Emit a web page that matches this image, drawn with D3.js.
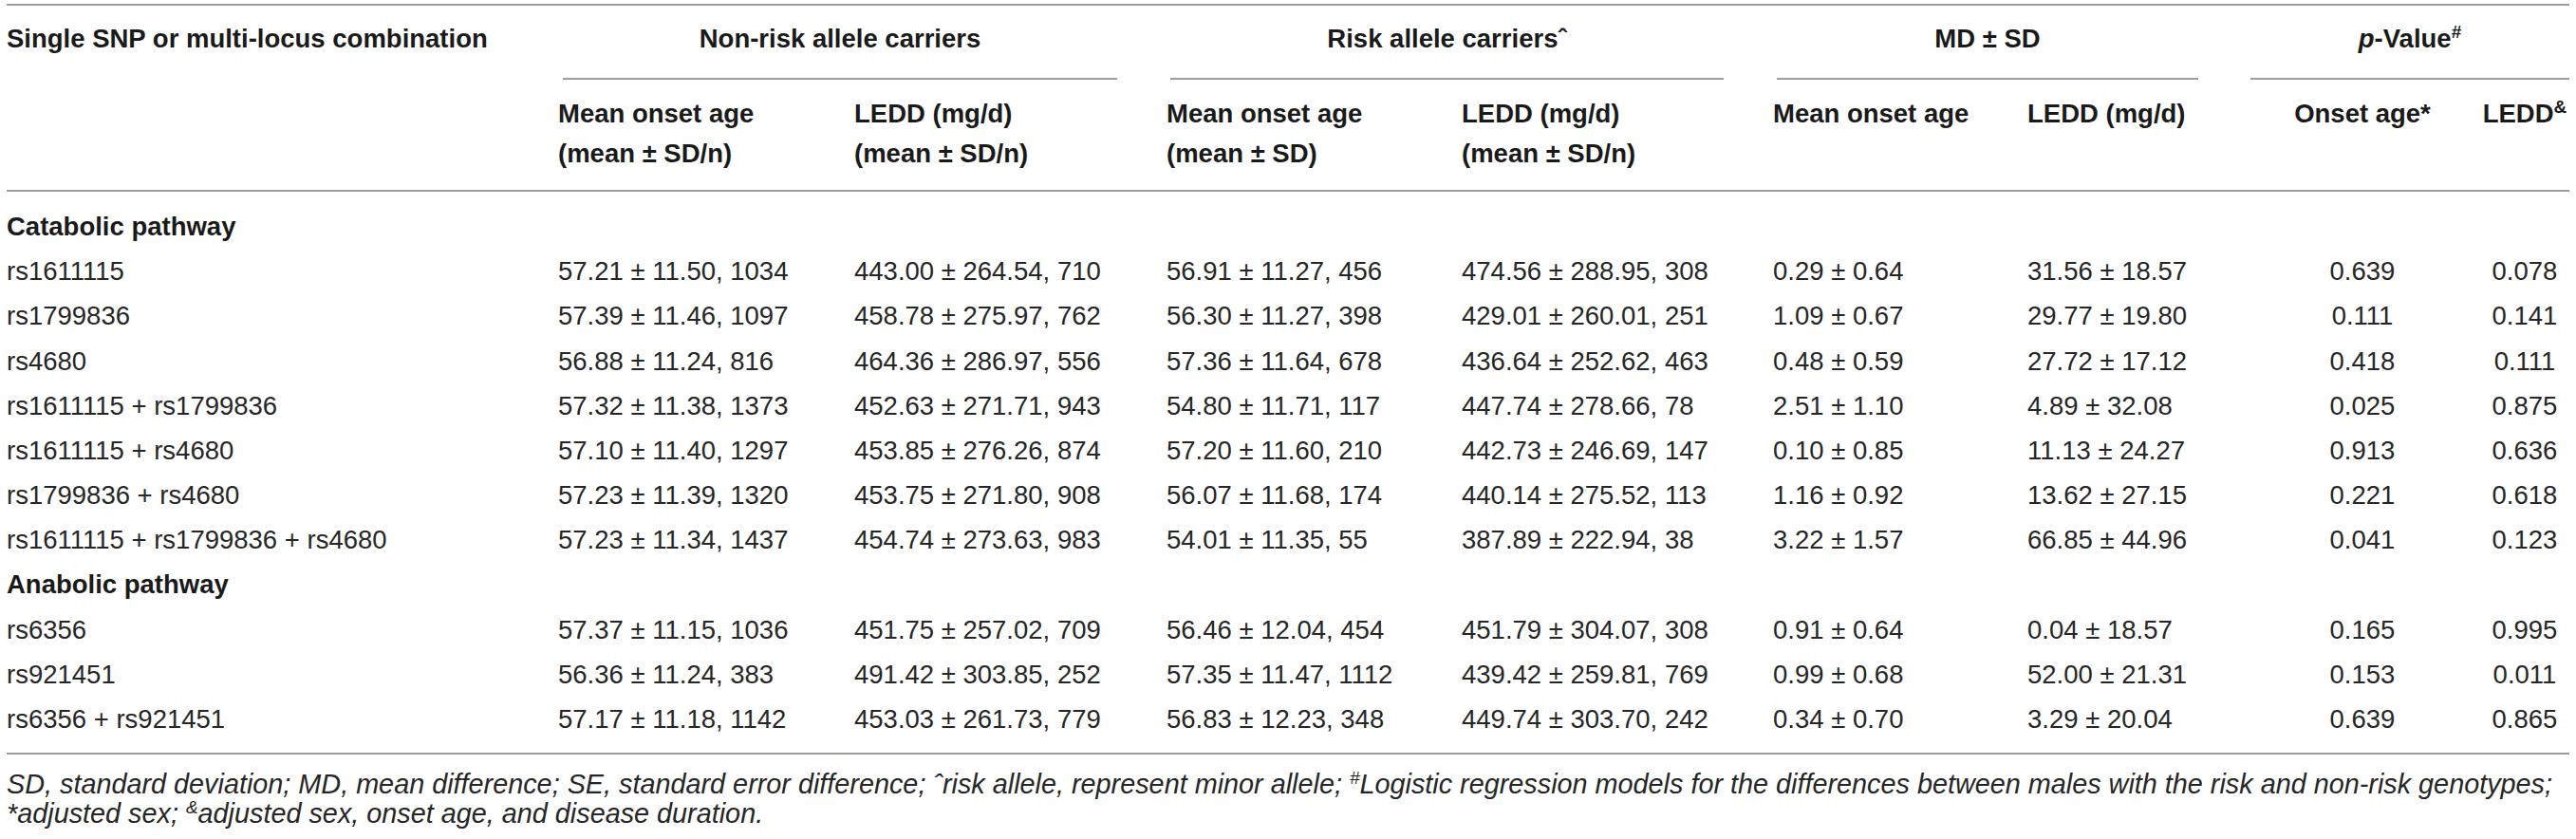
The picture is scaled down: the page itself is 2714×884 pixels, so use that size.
<!DOCTYPE html>
<html>
<head>
<meta charset="utf-8">
<script src="https://cdn.jsdelivr.net/npm/d3@7"></script>
<style>
  body { margin: 0; background: #fff; }
  svg text {
    font-family: "Liberation Sans", Arial, Helvetica, sans-serif;
    font-size: 27.5px;
    fill: #262626;
  }
  svg text.head { font-weight: bold; fill: #1a1a1a; }
  svg text.note { font-style: italic; font-size: 28.8px; }
  .rule { stroke: #9c9c9c; stroke-width: 2; }
</style>
</head>
<body>
<svg id="chart" width="2714" height="884"></svg>
<script>
// ---- table contents ----
var pathways = ["Catabolic pathway", "Anabolic pathway"];

var snps = [
  "rs1611115",
  "rs1799836",
  "rs4680",
  "rs1611115 + rs1799836",
  "rs1611115 + rs4680",
  "rs1799836 + rs4680",
  "rs1611115 + rs1799836 + rs4680",
  "rs6356",
  "rs921451",
  "rs6356 + rs921451"
];
// which pathway each row belongs to (index into pathways)
var snpPathway = [0, 0, 0, 0, 0, 0, 0, 1, 1, 1];

// mean, SD, n
var nonRiskOnset = [
  [57.21, 11.50, 1034], [57.39, 11.46, 1097], [56.88, 11.24, 816],
  [57.32, 11.38, 1373], [57.10, 11.40, 1297], [57.23, 11.39, 1320],
  [57.23, 11.34, 1437], [57.37, 11.15, 1036], [56.36, 11.24, 383],
  [57.17, 11.18, 1142]
];
var nonRiskLedd = [
  [443.00, 264.54, 710], [458.78, 275.97, 762], [464.36, 286.97, 556],
  [452.63, 271.71, 943], [453.85, 276.26, 874], [453.75, 271.80, 908],
  [454.74, 273.63, 983], [451.75, 257.02, 709], [491.42, 303.85, 252],
  [453.03, 261.73, 779]
];
var riskOnset = [
  [56.91, 11.27, 456], [56.30, 11.27, 398], [57.36, 11.64, 678],
  [54.80, 11.71, 117], [57.20, 11.60, 210], [56.07, 11.68, 174],
  [54.01, 11.35, 55], [56.46, 12.04, 454], [57.35, 11.47, 1112],
  [56.83, 12.23, 348]
];
var riskLedd = [
  [474.56, 288.95, 308], [429.01, 260.01, 251], [436.64, 252.62, 463],
  [447.74, 278.66, 78], [442.73, 246.69, 147], [440.14, 275.52, 113],
  [387.89, 222.94, 38], [451.79, 304.07, 308], [439.42, 259.81, 769],
  [449.74, 303.70, 242]
];
// mean difference, SD
var mdOnset = [
  [0.29, 0.64], [1.09, 0.67], [0.48, 0.59], [2.51, 1.10], [0.10, 0.85],
  [1.16, 0.92], [3.22, 1.57], [0.91, 0.64], [0.99, 0.68], [0.34, 0.70]
];
var mdLedd = [
  [31.56, 18.57], [29.77, 19.80], [27.72, 17.12], [4.89, 32.08], [11.13, 24.27],
  [13.62, 27.15], [66.85, 44.96], [0.04, 18.57], [52.00, 21.31], [3.29, 20.04]
];
var pOnset = [0.639, 0.111, 0.418, 0.025, 0.913, 0.221, 0.041, 0.165, 0.153, 0.639];
var pLedd = [0.078, 0.141, 0.111, 0.875, 0.636, 0.618, 0.123, 0.995, 0.011, 0.865];

// header labels: segments {t, sup, it}
var groupHeads = [
  [{ t: "Single SNP or multi-locus combination" }],
  [{ t: "Non-risk allele carriers" }],
  [{ t: "Risk allele carriers\u02c6" }],
  [{ t: "MD \u00b1 SD" }],
  [{ t: "p", it: true }, { t: "-Value" }, { t: "#", sup: true }]
];
var subHeads = [
  ["Mean onset age", "(mean \u00b1 SD/n)"],
  ["LEDD (mg/d)", "(mean \u00b1 SD/n)"],
  ["Mean onset age", "(mean \u00b1 SD)"],
  ["LEDD (mg/d)", "(mean \u00b1 SD/n)"],
  ["Mean onset age"],
  ["LEDD (mg/d)"]
];
var pHeads = [
  [{ t: "Onset age*" }],
  [{ t: "LEDD" }, { t: "&", sup: true }]
];
var footnotes = [
  [{ t: "SD, standard deviation; MD, mean difference; SE, standard error difference; \u02c6risk allele, represent minor allele; " },
   { t: "#", sup: true },
   { t: "Logistic regression models for the differences between males with the risk and non-risk genotypes;" }],
  [{ t: "*adjusted sex; " }, { t: "&", sup: true }, { t: "adjusted sex, onset age, and disease duration." }]
];

// ---- layout ----
var svg = d3.select("#chart");
var left = 7, right = 2707;

var cols = ["snp", "c1", "c2", "c3", "c4", "c5", "c6", "p1", "p2"];
var colX = d3.scaleOrdinal().domain(cols)
  .range([7, 588, 900, 1229, 1540, 1868, 2136, 2489, 2660]);

// spans of the group headings (start, end)
var spanX = d3.scaleOrdinal().domain([1, 2, 3, 4])
  .range([[593, 1177], [1233, 1816], [1872, 2316], [2371, 2707]]);

var fmt2 = d3.format(".2f"), fmt3 = d3.format(".3f");
var pm = " \u00b1 ";
function triple(v) { return fmt2(v[0]) + pm + fmt2(v[1]) + ", " + v[2]; }
function pair(v) { return fmt2(v[0]) + pm + fmt2(v[1]); }

function rich(sel, segs) {
  var raised = false;
  segs.forEach(function (s) {
    var ts = sel.append("tspan").text(s.t);
    if (s.it) ts.style("font-style", "italic");
    if (s.sup) {
      ts.attr("dy", -10).style("font-size", "19px");
      raised = true;
    } else if (raised) {
      ts.attr("dy", 10);
      raised = false;
    }
  });
}

// horizontal rules
[5, 201, 794].forEach(function (y) {
  svg.append("line").attr("class", "rule")
    .attr("x1", left).attr("x2", right).attr("y1", y).attr("y2", y);
});
[1, 2, 3, 4].forEach(function (k) {
  var s = spanX(k);
  svg.append("line").attr("class", "rule")
    .attr("x1", s[0]).attr("x2", s[1]).attr("y1", 83).attr("y2", 83);
});

// top header row
var headY = 50;
groupHeads.forEach(function (segs, i) {
  var t = svg.append("text").attr("class", "head").attr("y", headY);
  if (i === 0) {
    t.attr("x", colX("snp"));
  } else {
    var s = spanX(i);
    t.attr("x", (s[0] + s[1]) / 2).attr("text-anchor", "middle");
  }
  rich(t, segs);
});

// second header row
var subY = d3.scaleLinear().domain([0, 1]).range([129, 171]);
subHeads.forEach(function (lines, i) {
  lines.forEach(function (line, j) {
    svg.append("text").attr("class", "head")
      .attr("x", colX(cols[i + 1])).attr("y", subY(j))
      .text(line);
  });
});
pHeads.forEach(function (segs, i) {
  var t = svg.append("text").attr("class", "head")
    .attr("x", colX(cols[7 + i])).attr("y", subY(0))
    .attr("text-anchor", "middle");
  rich(t, segs);
});

// body rows
var rows = [];
pathways.forEach(function (p, gi) {
  rows.push({ group: p });
  snps.forEach(function (s, i) {
    if (snpPathway[i] === gi) rows.push({ i: i });
  });
});
var rowY = d3.scaleLinear().domain([0, rows.length - 1]).range([248, 767]);

var body = svg.append("g");
var rowG = body.selectAll("g.row").data(rows).enter().append("g")
  .attr("class", "row")
  .attr("transform", function (d, k) { return "translate(0," + rowY(k) + ")"; });

rowG.filter(function (d) { return d.group; })
  .append("text").attr("class", "head")
  .attr("x", colX("snp"))
  .text(function (d) { return d.group; });

rowG.filter(function (d) { return !d.group; }).each(function (d) {
  var i = d.i;
  var cells = [
    snps[i],
    triple(nonRiskOnset[i]),
    triple(nonRiskLedd[i]),
    triple(riskOnset[i]),
    triple(riskLedd[i]),
    pair(mdOnset[i]),
    pair(mdLedd[i]),
    fmt3(pOnset[i]),
    fmt3(pLedd[i])
  ];
  d3.select(this).selectAll("text").data(cells).enter().append("text")
    .attr("x", function (c, k) { return colX(cols[k]); })
    .attr("text-anchor", function (c, k) { return k >= 7 ? "middle" : "start"; })
    .text(function (c) { return c; });
});

// footnotes
var noteY = d3.scaleLinear().domain([0, 1]).range([836, 867]);
footnotes.forEach(function (segs, i) {
  var t = svg.append("text").attr("class", "note")
    .attr("x", left).attr("y", noteY(i));
  rich(t, segs);
});
</script>
</body>
</html>
